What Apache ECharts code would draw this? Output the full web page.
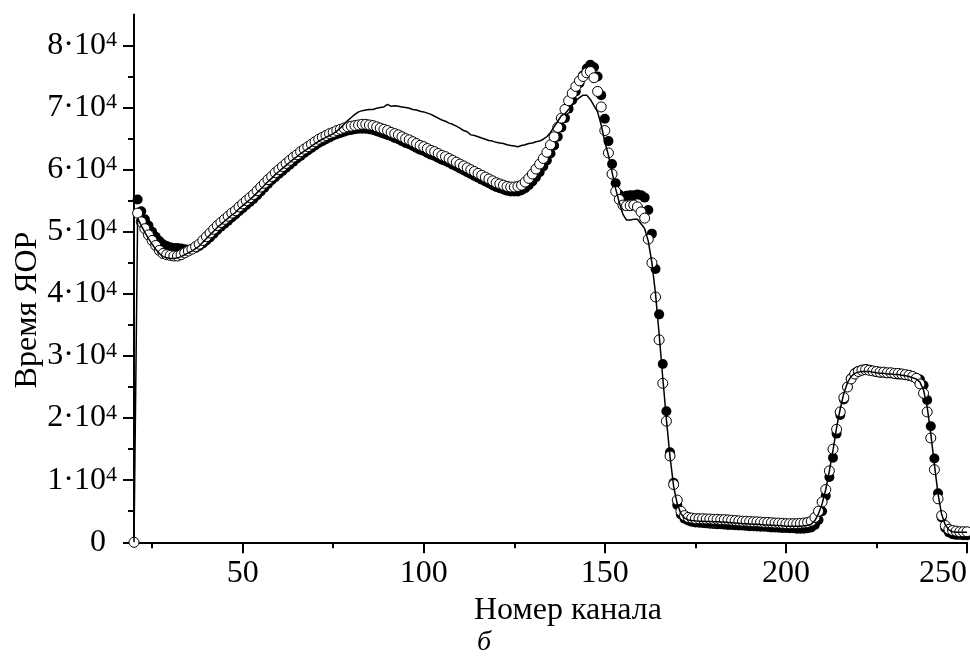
<!DOCTYPE html>
<html lang="ru">
<head>
<meta charset="UTF-8">
<title>Время ЯОР по каналам</title>
<script src="https://cdn.jsdelivr.net/npm/echarts@6/dist/echarts.min.js"></script>
<style>
  html, body { margin: 0; padding: 0; background: #fff; }
  #main { width: 970px; height: 657px; }
</style>
</head>
<body>
<div id="main"></div>
<script>
// номер первого канала, дальше по одному значению на канал (20 ... 250)
var firstChannel = 20;

// чёрные кружки
var filledPts = [
  null, 55200, 53300, 52000, 51000, 50000, 49200, 48500, 48000, 47700,
  47500, 47400, 47400, 47300, 47200, 47100, 47200, 47400, 47700, 48100,
  48600, 49100, 49700, 50300, 50800, 51300, 51800, 52300, 52800, 53300,
  53800, 54300, 54800, 55300, 55900, 56500, 57100, 57700, 58300, 58800,
  59300, 59800, 60300, 60800, 61300, 61800, 62200, 62700, 63100, 63500,
  63900, 64300, 64600, 64900, 65200, 65500, 65700, 65900, 66100, 66300,
  66400, 66500, 66600, 66600, 66600, 66500, 66400, 66200, 66000, 65800,
  65600, 65400, 65100, 64900, 64600, 64300, 64100, 63800, 63500, 63200,
  63000, 62700, 62400, 62200, 61900, 61600, 61400, 61100, 60800, 60500,
  60200, 59900, 59600, 59300, 59000, 58700, 58400, 58100, 57800, 57500,
  57200, 57000, 56800, 56600, 56500, 56500, 56500, 56700, 57000, 57500,
  58100, 58800, 59600, 60500, 61500, 62600, 63900, 65300, 66800, 68300,
  69800, 71200, 72600, 73900, 75200, 76300, 76900, 76500, 75000, 72000,
  68200, 64600, 60900, 57800, 56000, 55600, 55800, 55900, 55900, 56000,
  55900, 55500, 53500, 49700, 44000, 36700, 28700, 21100, 14500, 9600,
  6000, 4500, 3800, 3500, 3300, 3200, 3150, 3100, 3050, 3000,
  2950, 2900, 2900, 2850, 2800, 2800, 2750, 2700, 2700, 2650,
  2600, 2600, 2550, 2500, 2500, 2450, 2400, 2400, 2350, 2300,
  2300, 2250, 2250, 2200, 2200, 2200, 2250, 2400, 2800, 3600,
  5000, 7500, 10500, 13600, 17500, 20500, 23000, 25000, 26400, 27200,
  27600, 27800, 27900, 27800, 27600, 27400, 27300, 27300, 27200, 27200,
  27100, 27000, 27000, 26900, 26800, 26700, 26500, 26200, 25300, 22900,
  18700, 13500, 7900, 4000, 2300, 1600, 1300, 1200, 1200, 1150,
  1150
];

// светлые кружки
var openPts = [
  0, 53000, 51600, 50500, 49500, 48600, 47800, 47000, 46500, 46300,
  46200, 46100, 46100, 46300, 46600, 46900, 47200, 47600, 48000, 48600,
  49200, 49800, 50400, 51000, 51500, 52000, 52500, 53000, 53400, 54000,
  54500, 55000, 55500, 56000, 56600, 57200, 57800, 58400, 58900, 59500,
  60000, 60500, 61000, 61500, 62000, 62400, 62900, 63300, 63700, 64100,
  64500, 64900, 65200, 65500, 65800, 66000, 66300, 66500, 66700, 66900,
  67000, 67100, 67200, 67300, 67300, 67200, 67100, 66900, 66700, 66500,
  66300, 66000, 65800, 65600, 65300, 65000, 64800, 64500, 64200, 63900,
  63700, 63400, 63100, 62900, 62600, 62300, 62100, 61800, 61500, 61200,
  60900, 60600, 60300, 60000, 59700, 59400, 59100, 58800, 58500, 58200,
  57900, 57700, 57500, 57300, 57200, 57200, 57300, 57500, 58000, 58600,
  59300, 60100, 60900, 61800, 62800, 64000, 65300, 66800, 68300, 69700,
  71100, 72300, 73400, 74300, 75000, 75600, 75800, 74800, 72600, 70100,
  66300, 62700, 59300, 56500, 55200, 54300, 54200, 54200, 54300, 54000,
  53200, 52200, 48800, 45000, 39500, 32600, 25600, 19500, 13900, 9300,
  6800, 5000, 4300, 4000, 3900, 3800, 3800, 3800, 3750, 3750,
  3700, 3700, 3650, 3650, 3600, 3550, 3500, 3450, 3400, 3400,
  3350, 3300, 3300, 3250, 3200, 3200, 3150, 3100, 3100, 3050,
  3000, 3000, 3000, 3000, 3050, 3100, 3200, 3400, 4000, 5000,
  6500, 8500, 11500, 15000, 18200, 21000, 23300, 25000, 26300, 27100,
  27500, 27700, 27800, 27700, 27600, 27500, 27400, 27400, 27300, 27300,
  27200, 27200, 27100, 27000, 26900, 26700, 26400, 25500, 24000, 21000,
  16800, 11700, 7000, 4300, 2700, 2100, 1900, 1800, 1700, 1700,
  1700
];

// сплошная линия
var linePts = [
  0, 52200, 51000, 49900, 48900, 48000, 47200, 46500, 46000, 45800,
  45700, 45700, 45800, 46000, 46300, 46600, 46900, 47300, 47700, 48300,
  48900, 49500, 50100, 50700, 51200, 51700, 52200, 52700, 53100, 53700,
  54200, 54700, 55200, 55700, 56300, 56900, 57500, 58100, 58600, 59200,
  59700, 60200, 60700, 61200, 61700, 62100, 62600, 63000, 63400, 63800,
  64200, 64600, 64900, 65200, 65500, 65800, 66200, 66700, 67300, 67900,
  68400, 68900, 69300, 69500, 69600, 69700, 69700, 69900, 70000, 70100,
  70500, 70200, 70300, 70200, 70100, 70000, 69900, 69700, 69600, 69400,
  69300, 69100, 68900, 68600, 68300, 68000, 67800, 67500, 67300, 67000,
  66700, 66300, 66100, 65600, 65500, 65300, 65100, 64900, 64700, 64600,
  64400, 64300, 64200, 64000, 63900, 63800, 63700, 63900, 64000, 64200,
  64300, 64500, 64600, 64900, 65300, 66000, 66900, 67800, 68700, 69000,
  69700, 70400, 71100, 71600, 72000, 72000, 71300, 70300, 69300, 67200,
  64500, 62300, 59600, 56900, 54700, 52800, 51900, 51900, 52000, 52000,
  51300, 50500, 48500, 45000, 40000, 33500, 26500, 19800, 13800, 9000,
  6200, 4600, 3900, 3600, 3500, 3450, 3400, 3400, 3350, 3350,
  3300, 3300, 3250, 3250, 3200, 3150, 3100, 3050, 3000, 3000,
  2950, 2900, 2900, 2850, 2800, 2800, 2750, 2700, 2700, 2650,
  2600, 2600, 2600, 2600, 2600, 2650, 2750, 2900, 3500, 4600,
  6200, 8500, 11500, 14800, 18500, 21500, 24000, 25700, 26700, 27200,
  27400, 27500, 27500, 27500, 27400, 27300, 27200, 27200, 27100, 27100,
  27000, 27000, 26900, 26800, 26700, 26500, 26300, 25800, 24500, 21800,
  17500, 12500, 7800, 4500, 2800, 2000, 1700, 1600, 1600, 1600,
  1600
];

var channels = filledPts.map(function (v, i) { return firstChannel + i; });

function pairs(vals) {
  var out = [];
  vals.forEach(function (v, i) {
    if (v !== null) out.push([channels[i], v]);
  });
  return out;
}

// оси и поле графика (пиксели)
var FONT = '"Liberation Serif", "Times New Roman", serif';
var X_MIN = 20, X_MAX = 250, Y_MAX = 85000, Y_TOP_TICK = 80000;
var plotL = 134, plotR = 967, plotT = 14.4, plotB = 542.3;
var pxX = (plotR - plotL) / (X_MAX - X_MIN);
var pxY = (plotB - plotT) / Y_MAX;
var axisLineStyle = { color: '#000', width: 2 };

function hiddenAxis(idx) {
  return { gridIndex: idx, type: 'value', show: false, min: 0, max: 1 };
}

var myChart = echarts.init(document.getElementById('main'), null, { renderer: 'canvas' });

var option = {
  backgroundColor: '#fff',
  animation: false,
  // 0 - основное поле, 1 - мелкие штрихи X, 2 - крупные штрихи и подписи X, 3 - штрихи и подписи Y
  grid: [
    { left: plotL, top: plotT, width: plotR - plotL, height: plotB - plotT, outerBoundsMode: 'none' },
    { left: plotL + (25 - X_MIN) * pxX, top: plotT, width: (X_MAX - 25) * pxX, height: plotB - plotT, outerBoundsMode: 'none' },
    { left: plotL + (50 - X_MIN) * pxX, top: plotT, width: (X_MAX - 50) * pxX, height: plotB - plotT, outerBoundsMode: 'none' },
    { left: plotL, top: plotB - Y_TOP_TICK * pxY, width: plotR - plotL, height: Y_TOP_TICK * pxY, outerBoundsMode: 'none' }
  ],
  xAxis: [
    {
      gridIndex: 0, type: 'value', min: X_MIN, max: X_MAX,
      axisLine: { show: true, onZero: false, lineStyle: axisLineStyle },
      axisTick: { show: false }, axisLabel: { show: false }, splitLine: { show: false }
    },
    {
      gridIndex: 1, type: 'value', min: 25, max: X_MAX, interval: 25,
      axisLine: { show: false },
      axisTick: { show: true, length: 6, lineStyle: axisLineStyle },
      axisLabel: { show: false }, splitLine: { show: false }
    },
    {
      gridIndex: 2, type: 'value', min: 50, max: X_MAX, interval: 50,
      axisLine: { show: false },
      axisTick: { show: true, length: 11, lineStyle: axisLineStyle },
      axisLabel: {
        show: true, margin: 15, fontSize: 32, fontFamily: FONT, color: '#000',
        alignMaxLabel: 'right'
      },
      splitLine: { show: false }
    },
    hiddenAxis(3)
  ],
  yAxis: [
    {
      gridIndex: 0, type: 'value', min: 0, max: Y_MAX,
      axisLine: { show: true, onZero: false, lineStyle: axisLineStyle },
      axisTick: { show: false }, axisLabel: { show: false }, splitLine: { show: false }
    },
    hiddenAxis(1),
    hiddenAxis(2),
    {
      gridIndex: 3, type: 'value', min: 0, max: Y_TOP_TICK, interval: 10000,
      axisLine: { show: false },
      axisTick: { show: true, length: 11, lineStyle: axisLineStyle },
      minorTick: { show: true, splitNumber: 2, length: 6, lineStyle: axisLineStyle },
      axisLabel: {
        show: true, margin: 17,
        formatter: function (v) {
          return v === 0 ? '{m|0}{gap|}' : '{m|' + (v / 10000) + '·10}{sup|4}';
        },
        rich: {
          m: { fontSize: 32, fontFamily: FONT, color: '#000' },
          sup: { fontSize: 22, fontFamily: FONT, color: '#000', verticalAlign: 'top' },
          gap: { width: 11 }
        }
      },
      splitLine: { show: false }, minorSplitLine: { show: false }
    }
  ],
  graphic: [
    {
      type: 'text', x: 28, y: 310, rotation: Math.PI / 2,
      style: { text: 'Время ЯОР', fontSize: 32, fontFamily: FONT, fill: '#000', align: 'center', verticalAlign: 'middle' }
    },
    {
      type: 'text', x: 568, y: 611,
      style: { text: 'Номер канала', fontSize: 32, fontFamily: FONT, fill: '#000', align: 'center', verticalAlign: 'middle' }
    },
    {
      type: 'text', x: 484, y: 643,
      style: { text: 'б', fontSize: 28, fontStyle: 'italic', fontFamily: FONT, fill: '#000', align: 'center', verticalAlign: 'middle' }
    }
  ],
  series: [
    {
      name: 'filled', type: 'scatter', xAxisIndex: 0, yAxisIndex: 0,
      symbol: 'circle', symbolSize: 10,
      itemStyle: { color: '#000', opacity: 1 },
      emphasis: { disabled: true },
      data: pairs(filledPts)
    },
    {
      name: 'open', type: 'scatter', xAxisIndex: 0, yAxisIndex: 0,
      symbol: 'circle', symbolSize: 10,
      itemStyle: { color: '#fff', borderColor: '#000', borderWidth: 1, opacity: 1 },
      emphasis: { disabled: true },
      data: pairs(openPts)
    },
    {
      name: 'line', type: 'line', xAxisIndex: 0, yAxisIndex: 0,
      symbol: 'none', z: 3,
      lineStyle: { color: '#000', width: 1.5 },
      emphasis: { disabled: true },
      data: pairs(linePts)
    }
  ]
};

myChart.setOption(option);
</script>
</body>
</html>
